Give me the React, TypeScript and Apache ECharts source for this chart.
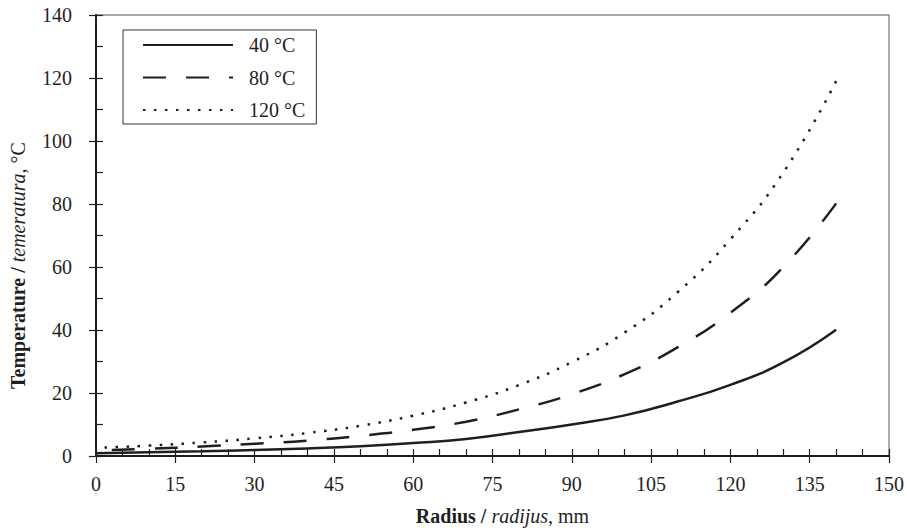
import React, { useEffect, useRef } from "react";
import * as echarts from "echarts";

const radius = [0, 10, 20, 30, 40, 50, 60, 70, 80, 90, 100, 110, 120, 130, 140];
const t40 = [0.9, 1.2, 1.5, 1.9, 2.4, 3.1, 4.1, 5.4, 7.6, 10.0, 12.9, 17.3, 22.6, 29.7, 40.1];
const t80 = [1.8, 2.3, 3.0, 3.9, 4.9, 6.4, 8.3, 10.9, 14.8, 19.6, 26.0, 34.5, 45.5, 60.0, 80.2];
const t120 = [2.6, 3.3, 4.3, 5.6, 7.3, 9.6, 12.8, 17.0, 22.5, 29.8, 39.2, 52.0, 68.8, 90.0, 119.0];
const seriesNames = ["40 °C", "80 °C", "120 °C"];

const FONT = "Liberation Serif";
const INK = "#1f1f1f";
const FS = 20;

export default function App() {
  const ref = useRef<HTMLDivElement>(null);
  useEffect(() => {
    if (!ref.current) return;
    const chart = echarts.init(ref.current, undefined, { renderer: "svg" });
    const pair = (ys: number[]) => radius.map((x, i) => [x, ys[i]]);
    const rich = {
      b: { fontFamily: FONT, fontSize: FS, fontWeight: "bold", color: INK },
      i: { fontFamily: FONT, fontSize: FS, fontStyle: "italic", color: INK },
      n: { fontFamily: FONT, fontSize: FS, color: INK },
    };
    chart.setOption({
      animation: false,
      backgroundColor: "#ffffff",
      grid: {
        left: 96,
        right: 9,
        top: 15,
        bottom: 73,
        show: true,
        borderColor: "#555",
        borderWidth: 1,
      },
      legend: {
        left: 123,
        top: 30,
        orient: "vertical",
        itemWidth: 90,
        itemHeight: 14,
        itemGap: 10.5,
        padding: [4, 11, 3, 19],
        borderColor: "#333",
        borderWidth: 1,
        data: seriesNames,
        itemStyle: { opacity: 0, color: "transparent", borderWidth: 0 },
        textStyle: {
          fontFamily: FONT,
          fontSize: FS,
          color: INK,
          lineHeight: 22,
          padding: [0, 0, 0, 11],
        },
      },
      xAxis: [
        {
          type: "value",
          min: 0,
          max: 150,
          interval: 15,
          position: "bottom",
          name: "{b|Radius / }{i|radijus}{n|, mm}",
          nameLocation: "middle",
          nameGap: 50,
          nameTextStyle: { rich, padding: [0, 0, 0, 20] },
          axisLine: { show: true, lineStyle: { color: INK, width: 2 } },
          axisTick: { show: true, inside: false, length: 7, lineStyle: { color: INK, width: 1.2 } },
          axisLabel: { fontFamily: FONT, fontSize: FS, color: INK, margin: 18 },
          splitLine: { show: false },
        },
        {
          type: "value",
          min: 0,
          max: 150,
          interval: 5,
          position: "bottom",
          axisLine: { show: false },
          axisTick: { show: true, inside: true, length: 7, lineStyle: { color: INK, width: 1.2 } },
          axisLabel: { show: false },
          splitLine: { show: false },
        },
      ],
      yAxis: [
        {
          type: "value",
          min: 0,
          max: 140,
          interval: 20,
          position: "left",
          name: "{b|Temperature / }{i|temeratura}{n|, °C}",
          nameLocation: "middle",
          nameGap: 68,
          nameTextStyle: { rich, padding: [0, 60, 0, 0] },
          axisLine: { show: true, lineStyle: { color: INK, width: 2 } },
          axisTick: { show: true, inside: false, length: 7, lineStyle: { color: INK, width: 1.2 } },
          axisLabel: { fontFamily: FONT, fontSize: FS, color: INK, margin: 24 },
          splitLine: { show: false },
        },
        {
          type: "value",
          min: 0,
          max: 140,
          interval: 10,
          position: "left",
          axisLine: { show: false },
          axisTick: { show: true, inside: true, length: 7, lineStyle: { color: INK, width: 1.2 } },
          axisLabel: { show: false },
          splitLine: { show: false },
        },
      ],
      series: [
        {
          name: seriesNames[0],
          type: "line",
          data: pair(t40),
          smooth: true,
          symbol: "none",
          lineStyle: { color: INK, width: 2.5, type: "solid" },
          itemStyle: { color: INK },
        },
        {
          name: seriesNames[1],
          type: "line",
          data: pair(t80).reverse(),
          smooth: true,
          symbol: "none",
          lineStyle: { color: INK, width: 2.5, type: [23, 20] },
          itemStyle: { color: INK },
        },
        {
          name: seriesNames[2],
          type: "line",
          data: pair(t120).reverse(),
          smooth: true,
          symbol: "none",
          lineStyle: { color: INK, width: 2.5, type: [2.5, 8.5] },
          itemStyle: { color: INK },
        },
      ],
    });
    return () => chart.dispose();
  }, []);
  return (
    <div
      ref={ref}
      style={{ position: "fixed", left: 0, top: 0, width: 907, height: 531, background: "#fff" }}
    />
  );
}
